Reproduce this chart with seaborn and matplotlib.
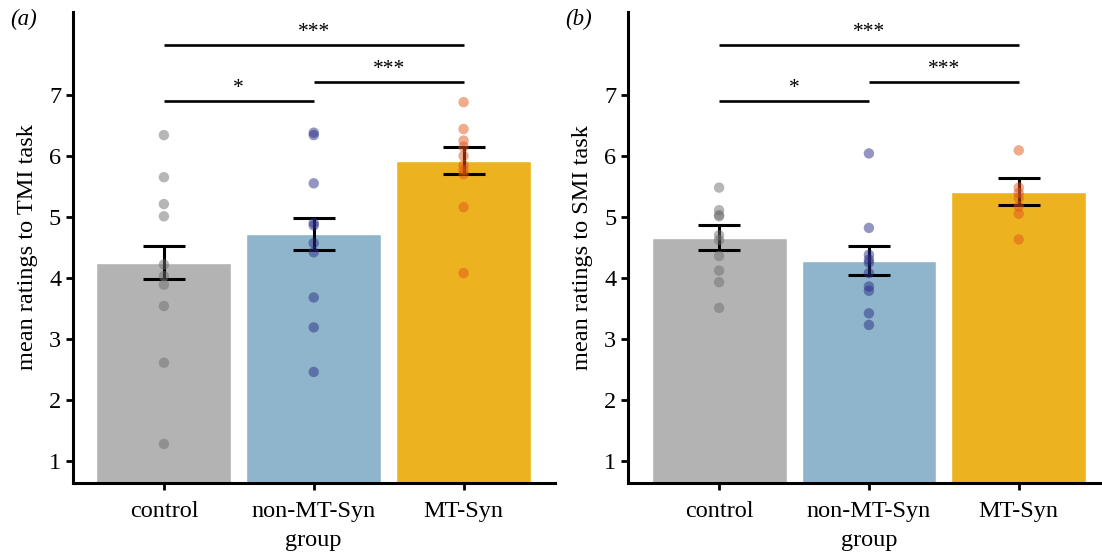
import numpy as np
import pandas as pd
import matplotlib
matplotlib.use("Agg")
import matplotlib.pyplot as plt
import seaborn as sns

# data
groups = ["control", "non-MT-Syn", "MT-Syn"]

tmi_means = [4.25, 4.72, 5.92]
tmi_se = [0.27, 0.26, 0.22]
tmi_control = [6.34, 5.65, 5.21, 5.01, 4.22, 4.03, 3.89, 3.54, 2.61, 1.28]
tmi_nonmt = [6.38, 6.34, 5.55, 4.90, 4.86, 4.57, 4.42, 3.68, 3.19, 2.46]
tmi_mt = [6.88, 6.44, 6.25, 6.15, 6.00, 5.85, 5.77, 5.70, 5.16, 4.08]

smi_means = [4.66, 4.28, 5.41]
smi_se = [0.20, 0.24, 0.22]
smi_control = [5.48, 5.11, 5.03, 5.01, 4.70, 4.62, 4.36, 4.12, 3.93, 3.51]
smi_nonmt = [6.04, 4.82, 4.38, 4.30, 4.25, 4.08, 3.86, 3.79, 3.42, 3.23]
smi_mt = [6.09, 5.48, 5.39, 5.31, 5.17, 5.05, 4.63]

# significance brackets: (from, to, y, label)
brackets = [(0, 2, 7.82, "***"), (1, 2, 7.21, "***"), (0, 1, 6.90, "*")]

bar_colors = ["#b3b3b3", "#8fb5cc", "#edb220"]
dot_colors = ["#6e6e6e", "#2a2f85", "#e2561a"]

sns.set_style("ticks")
plt.rcParams["font.family"] = ["Liberation Serif", "DejaVu Serif"]
plt.rcParams["axes.linewidth"] = 2.2
plt.rcParams["axes.edgecolor"] = "black"
plt.rcParams["axes.labelcolor"] = "black"
plt.rcParams["text.color"] = "black"
plt.rcParams["xtick.color"] = "black"
plt.rcParams["ytick.color"] = "black"
plt.rcParams["xtick.major.width"] = 2.0
plt.rcParams["ytick.major.width"] = 2.0
plt.rcParams["xtick.major.size"] = 5
plt.rcParams["ytick.major.size"] = 5

fig = plt.figure(figsize=(11.02, 5.55), dpi=100)
ax_a = fig.add_axes([0.0662, 0.1297, 0.437, 0.849])
ax_b = fig.add_axes([0.570, 0.1297, 0.437, 0.849])

panels = [
    (ax_a, "(a)", "mean ratings to TMI task", tmi_means, tmi_se, [tmi_control, tmi_nonmt, tmi_mt]),
    (ax_b, "(b)", "mean ratings to SMI task", smi_means, smi_se, [smi_control, smi_nonmt, smi_mt]),
]

for ax, tag, ylab, means, se, points in panels:
    bars = pd.DataFrame({"group": groups, "mean": means})
    sns.barplot(data=bars, x="group", y="mean", hue="group", order=groups,
                palette=bar_colors, width=0.9, saturation=1, legend=False,
                ax=ax, zorder=1)

    ax.errorbar(range(3), means, yerr=se, fmt="none", ecolor="black",
                elinewidth=2.2, capsize=15, capthick=2.2, zorder=3)

    pts = pd.DataFrame({
        "group": np.repeat(groups, [len(p) for p in points]),
        "rating": np.concatenate(points),
    })
    sns.stripplot(data=pts, x="group", y="rating", hue="group", order=groups,
                  palette=dot_colors, jitter=False, size=7.5, alpha=0.5,
                  linewidth=0, legend=False, ax=ax, zorder=4)

    for i, j, yv, lab in brackets:
        ax.plot([i, j], [yv, yv], color="black", lw=1.9, solid_capstyle="butt", clip_on=False)
        ax.text((i + j) / 2, yv + 0.05, lab, ha="center", va="bottom", fontsize=15.5)

    ax.set_xlim(-0.607, 2.607)
    ax.set_ylim(0.64, 8.36)
    ax.set_yticks([1, 2, 3, 4, 5, 6, 7])
    ax.tick_params(labelsize=17.5)
    ax.tick_params(axis="x", pad=8)
    ax.set_ylabel(ylab, fontsize=17.5, labelpad=8)
    ax.set_xlabel("group", fontsize=17.5, labelpad=6)
    sns.despine(ax=ax)
    fig.text(ax.get_position().x0 - 0.057, 0.965, tag, fontsize=16.5, va="center",
             fontstyle="italic")

fig.savefig("out.png", dpi=100)
